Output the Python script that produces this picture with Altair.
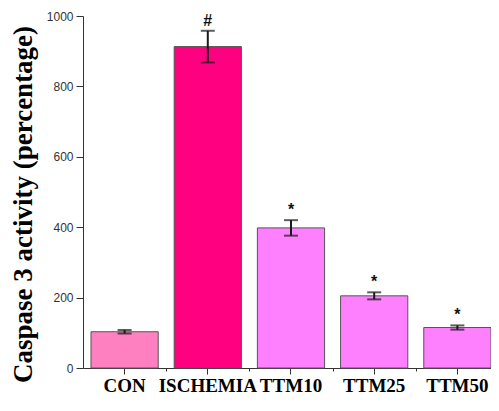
import altair as alt
import pandas as pd

groups = ["CON", "ISCHEMIA", "TTM10", "TTM25", "TTM50"]
means = [103, 913, 398, 205, 115]
errs = [5, 45, 22, 10, 6]
marks = ["", "#", "*", "*", "*"]
colors = ["#FF80C0", "#FF0080", "#FF80FF", "#FF80FF", "#FF80FF"]
ytick_values = [0, 100, 200, 300, 400, 500, 600, 700, 800, 900, 1000]

df = pd.DataFrame({
    "group": groups,
    "value": means,
    "low": [m - e for m, e in zip(means, errs)],
    "high": [m + e for m, e in zip(means, errs)],
    "mark": marks,
})

xscale = alt.Scale(domain=groups, paddingInner=0.192, paddingOuter=0.048, align=1)
yscale = alt.Scale(domain=[0, 1000], nice=False)

base = alt.Chart(df)

bars = base.mark_bar(stroke="#555555", strokeWidth=1).encode(
    x=alt.X("group:N", scale=xscale, sort=groups, axis=alt.Axis(
        title=None, labelAngle=0, labelFont="Liberation Serif", labelFontWeight="bold",
        labelFontSize=19, labelColor="#000000", labelPadding=2, tickSize=6,
        tickColor="#333333", domainColor="#333333", labelOverlap=False, labelBound=False,
        orient="bottom")),
    y=alt.Y("value:Q", scale=yscale, axis=alt.Axis(
        title="Caspase 3 activity (percentage)", titleFont="Liberation Serif",
        titleFontWeight="bold", titleFontSize=27, titleColor="#000000",
        titleX=-46, titleY=188, titleBaseline="bottom", titleAngle=270,
        values=ytick_values, format="d",
        labelExpr="datum.value % 200 === 0 ? datum.label : ''",
        tickSize={"condition": {"test": "datum.value % 200 === 0", "value": 7}, "value": 3},
        labelPadding=3,
        labelFont="Liberation Sans", labelFontSize=12, labelColor="#333333",
        tickColor="#333333", domainColor="#333333", grid=False, orient="left")),
    color=alt.Color("group:N", scale=alt.Scale(domain=groups, range=colors), legend=None),
)

stems = base.mark_rule(strokeWidth=2, color="#1a1a1a").encode(
    x=alt.X("group:N", scale=xscale, sort=groups, axis=alt.Axis(
        title=None, labels=False, domain=False, tickSize=3, tickOffset=41.6,
        tickColor="#333333", orient="bottom")),
    y=alt.Y("low:Q", scale=yscale),
    y2="high:Q",
)

caps = base.transform_fold(["low", "high"], as_=["end", "v"]).mark_tick(
    size=14, thickness=2, orient="horizontal", color="#1a1a1a").encode(
    x=alt.X("group:N", scale=xscale, sort=groups, axis=None),
    y=alt.Y("v:Q", scale=yscale),
)

text = base.mark_text(font="Liberation Sans", fontWeight="bold", fontSize=16,
                      baseline="alphabetic", dy=-5, color="#111111").encode(
    x=alt.X("group:N", scale=xscale, sort=groups, axis=None),
    y=alt.Y("high:Q", scale=yscale),
    text="mark:N",
)

chart = alt.layer(bars, stems, caps, text).resolve_axis(x="independent").properties(
    width=408, height=352,
    background="#ffffff",
    autosize=alt.AutoSizeParams(type="none"),
    padding={"left": 75, "top": 8, "right": 0, "bottom": 28},
).configure_view(stroke=None, strokeWidth=0)

chart.save("out.html", embed_options={"renderer": "svg", "actions": False})
